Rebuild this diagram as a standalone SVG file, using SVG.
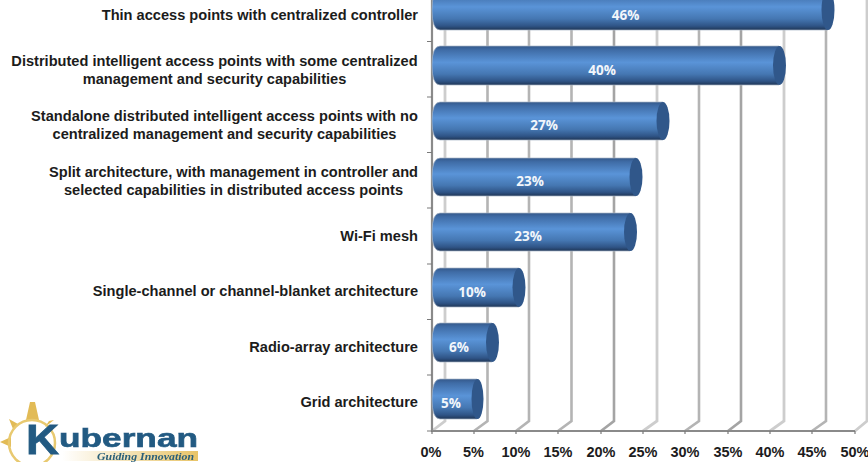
<svg xmlns="http://www.w3.org/2000/svg" width="868" height="462" viewBox="0 0 868 462">
<defs>
<linearGradient id="barFill" x1="0" y1="0" x2="0" y2="1">
<stop offset="0" stop-color="#34588a"/>
<stop offset="0.1" stop-color="#3f6ca6"/>
<stop offset="0.42" stop-color="#5a94d8"/>
<stop offset="0.72" stop-color="#4577b2"/>
<stop offset="0.9" stop-color="#2f5486"/>
<stop offset="1" stop-color="#1f3656"/>
</linearGradient>
<filter id="soft" x="-5%" y="-5%" width="110%" height="110%"><feGaussianBlur stdDeviation="0.6"/></filter>
<linearGradient id="tag" x1="0" y1="0" x2="1" y2="0">
<stop offset="0" stop-color="#ffffff"/><stop offset="1" stop-color="#e8c468"/>
</linearGradient>
</defs>
<style>
text{font-family:"Liberation Sans",Arial,sans-serif;font-weight:bold;fill:#1c1c1c}
.cat{font-size:14.6px;text-anchor:middle}
.catr{font-size:14.6px;text-anchor:end}
.ax{font-size:14.5px;text-anchor:middle}
.val{font-family:"Open Sans",sans-serif;font-size:13.5px;fill:#f2f6fb;text-anchor:middle}
.g0{stroke:#a4a4a4;stroke-width:2.6;fill:none}
.g1{stroke:#b4b4b4;stroke-width:2.6;fill:none}
.g2{stroke:#cdcdcd;stroke-width:2.8;fill:none}
.axis{stroke:#8a8a8a;stroke-width:2.2;fill:none}
.tick{stroke:#7a7a7a;stroke-width:1.2;fill:none}
.cap{fill:#30578a}
.body{stroke:#a9b6c8;stroke-width:1;stroke-opacity:.7}
</style>
<rect width="868" height="462" fill="#fff"/>

<g id="grid">
<path class="g2" d="M432 431L445 421V0"/>
<path class="g1" d="M474 431L487.500 421V0"/>
<path class="g1" d="M516 431L529 421V0"/>
<path class="g1" d="M558 431L571.500 421V0"/>
<path class="g0" d="M601 431L614 421V0"/>
<path class="g2" d="M643 431L657 421V0"/>
<path class="g1" d="M685 431L699 421V0"/>
<path class="g0" d="M728 431L741 421V0"/>
<path class="g2" d="M770 431L784 421V0"/>
<path class="g1" d="M812 431L826 421V0"/>
<path class="g2" d="M855 431L867 421V0"/>
</g>
<g id="axes">
<path class="axis" d="M432 0V431H855"/>
<path class="tick" d="M427 41.500H432M427 97H432M427 152.500H432M427 208H432M427 264H432M427 319.500H432M427 375H432M427 431H432"/>
<path class="tick" d="M432 431V434M474 431V434M516 431V434M558 431V434M601 431V434M643 431V434M685 431V434M728 431V434M770 431V434M812 431V434M855 431V434"/>
</g>

<g id="bar-thin">
<path class="body" fill="url(#barFill)" d="M440-10H828V30H440Q432 30 432 10Q432-10 440-10Z"/>
<ellipse class="cap" cx="828" cy="10" rx="6.500" ry="20"/>
<text class="val" x="625.500" y="20">46%</text>
<text class="catr" x="418" y="20">Thin access points with centralized controller</text>
</g>
<g id="bar-distributed">
<path class="body" fill="url(#barFill)" d="M440 46H779V85H440Q432 85 432 65Q432 46 440 46Z"/>
<ellipse class="cap" cx="779.500" cy="65.500" rx="6.500" ry="19.500"/>
<text class="val" x="602" y="75">40%</text>
<text class="cat" x="214.500" y="66">Distributed intelligent access points with some centralized</text>
<text class="cat" x="214.500" y="84">management and security capabilities</text>
</g>
<g id="bar-standalone">
<path class="body" fill="url(#barFill)" d="M440 102H663V140H440Q432 140 432 121Q432 102 440 102Z"/>
<ellipse class="cap" cx="663" cy="121" rx="6.500" ry="19"/>
<text class="val" x="544" y="130">27%</text>
<text class="cat" x="224.500" y="121">Standalone distributed intelligent access points with no</text>
<text class="cat" x="224.500" y="139">centralized management and security capabilities</text>
</g>
<g id="bar-split">
<path class="body" fill="url(#barFill)" d="M440 158H636V196H440Q432 196 432 177Q432 158 440 158Z"/>
<ellipse class="cap" cx="636" cy="177" rx="6.500" ry="19"/>
<text class="val" x="530" y="186">23%</text>
<text class="cat" x="233.500" y="177">Split architecture, with management in controller and</text>
<text class="cat" x="233.500" y="195">selected capabilities in distributed access points</text>
</g>
<g id="bar-mesh">
<path class="body" fill="url(#barFill)" d="M440 213H630V251H440Q432 251 432 232Q432 213 440 213Z"/>
<ellipse class="cap" cx="630.500" cy="232" rx="6.500" ry="19"/>
<text class="val" x="528" y="241">23%</text>
<text class="catr" x="418" y="241">Wi-Fi mesh</text>
</g>
<g id="bar-single">
<path class="body" fill="url(#barFill)" d="M440 268H519V307H440Q432 307 432 287Q432 268 440 268Z"/>
<ellipse class="cap" cx="519" cy="287.500" rx="6.500" ry="19.500"/>
<text class="val" x="472" y="297">10%</text>
<text class="catr" x="418" y="296">Single-channel or channel-blanket architecture</text>
</g>
<g id="bar-radio">
<path class="body" fill="url(#barFill)" d="M440 323H492V362H440Q432 362 432 342Q432 323 440 323Z"/>
<ellipse class="cap" cx="492.500" cy="342.500" rx="6.500" ry="19.500"/>
<text class="val" x="459" y="352">6%</text>
<text class="catr" x="418" y="352">Radio-array architecture</text>
</g>
<g id="bar-grid">
<path class="body" fill="url(#barFill)" d="M440 379H477V419H440Q432 419 432 399Q432 379 440 379Z"/>
<ellipse class="cap" cx="477.500" cy="399" rx="6" ry="20"/>
<text class="val" x="451" y="408">5%</text>
<text class="catr" x="418" y="407">Grid architecture</text>
</g>

<g id="x-labels">
<text class="ax" x="431" y="457">0%</text>
<text class="ax" x="473.500" y="457">5%</text>
<text class="ax" x="516" y="457">10%</text>
<text class="ax" x="558" y="457">15%</text>
<text class="ax" x="601" y="457">20%</text>
<text class="ax" x="643" y="457">25%</text>
<text class="ax" x="685" y="457">30%</text>
<text class="ax" x="728" y="457">35%</text>
<text class="ax" x="770" y="457">40%</text>
<text class="ax" x="812" y="457">45%</text>
<text class="ax" x="855" y="457">50%</text>
</g>

<g id="logo" filter="url(#soft)">
<path fill="#e2bb57" d="M26 420L30 402L35 402L39 420ZM0 442L11 437L11 447Z"/>
<path fill="#e2bb57" d="M9 419L18 424L13 429ZM54 420L45 427L49 421Z"/>
<circle cx="32" cy="443" r="23" fill="none" stroke="#e8c96f" stroke-width="2.500"/>
<rect x="62" y="451" width="136" height="10" fill="url(#tag)"/>
<text x="26" y="454" style="font-size:43px;fill:#215a82;stroke:#215a82;stroke-width:.8px" textLength="33" lengthAdjust="spacingAndGlyphs">K</text>
<text x="59" y="447" style="font-size:25px;fill:#215a82;stroke:#215a82;stroke-width:.6px" textLength="139" lengthAdjust="spacingAndGlyphs">ubernan</text>
<text x="97" y="460" style="font-size:9.500px;fill:#2a5f78;font-family:'Liberation Serif',serif;font-style:italic" textLength="97" lengthAdjust="spacingAndGlyphs">Guiding Innovation</text>
</g>
</svg>
